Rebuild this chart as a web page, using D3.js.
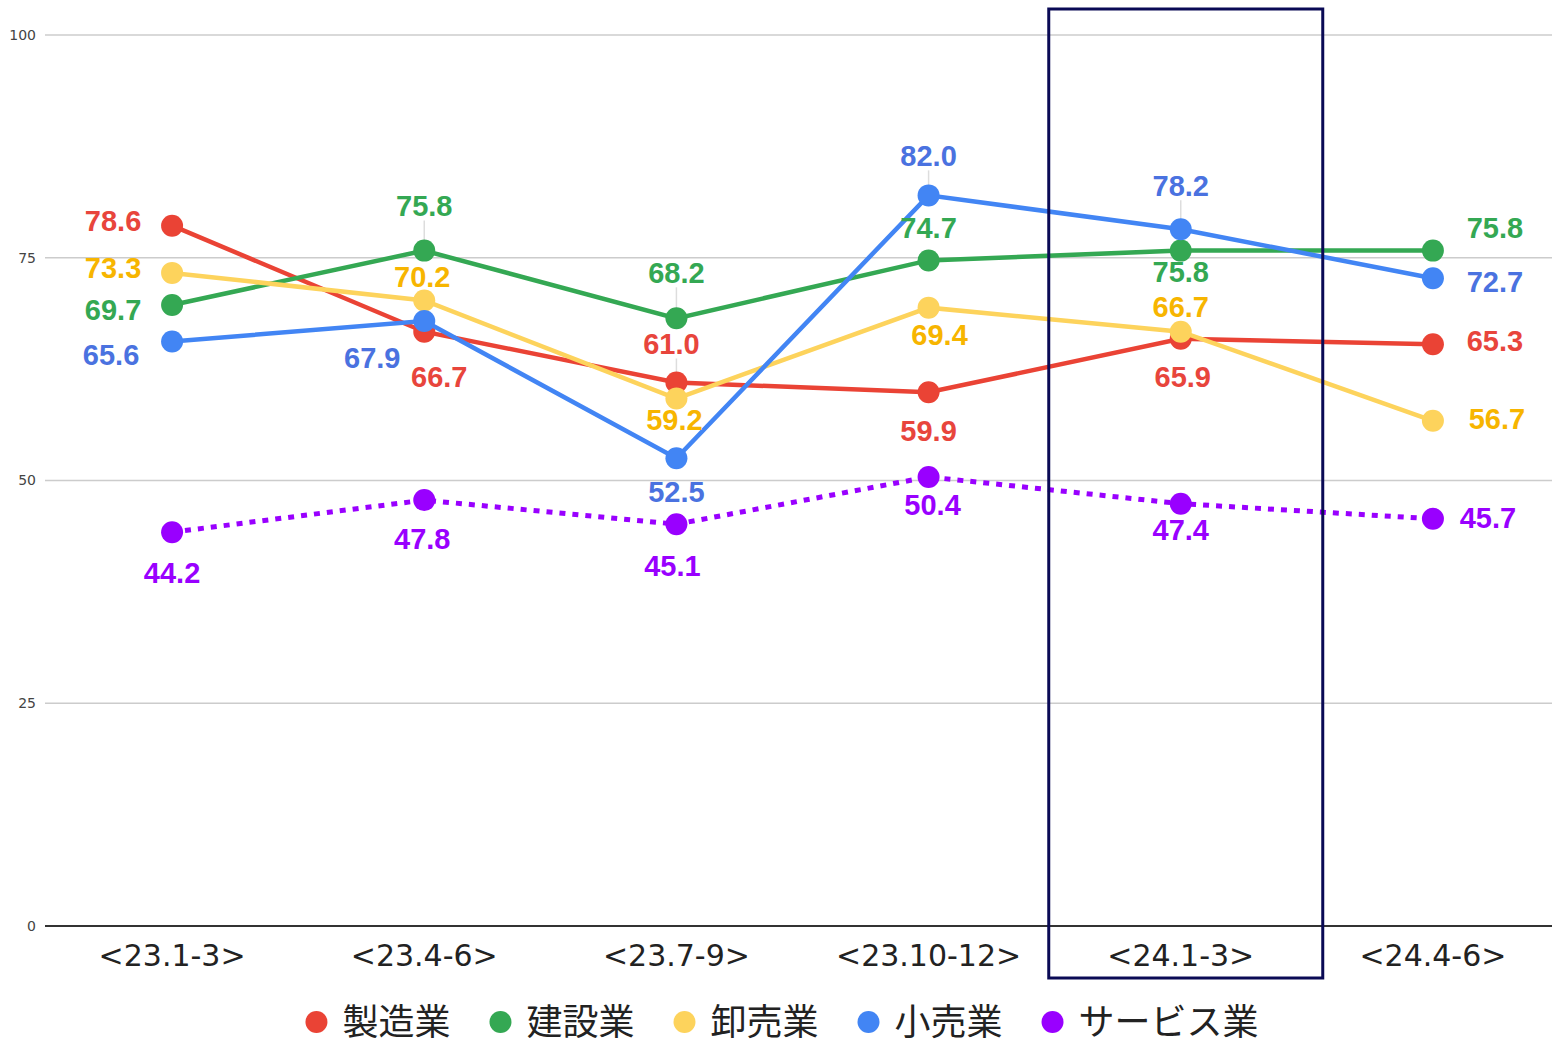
<!DOCTYPE html>
<html>
<head>
<meta charset="utf-8">
<script src="https://cdn.jsdelivr.net/npm/d3@7"></script>
<style>
  body { margin: 0; background: #fff; }
  svg { display: block; }
</style>
</head>
<body>
<script>
// chart data
var categories = ["<23.1-3>", "<23.4-6>", "<23.7-9>", "<23.10-12>", "<24.1-3>", "<24.4-6>"];
var seriesNames = ["製造業", "建設業", "卸売業", "小売業", "サービス業"];
var manufacturing = [78.6, 66.7, 61.0, 59.9, 65.9, 65.3];
var construction = [69.7, 75.8, 68.2, 74.7, 75.8, 75.8];
var wholesale = [73.3, 70.2, 59.2, 69.4, 66.7, 56.7];
var retail = [65.6, 67.9, 52.5, 82.0, 78.2, 72.7];
var service = [44.2, 47.8, 45.1, 50.4, 47.4, 45.7];
var yTicks = [0, 25, 50, 75, 100];
var highlightCategory = "<24.1-3>";

var width = 1552, height = 1044;
var lineColors = ["#ea4335", "#34a853", "#fdd35c", "#4285f4", "#9900ff"];
var textColors = ["#e8453c", "#34a853", "#f7b500", "#4a72e0", "#9900ff"];

// label offsets from each point (dx, dy)
var labelOffsets = [
  [[-59,-5],[15,45],[-5,-39],[0,38],[2,38],[62,-4]],
  [[-59,5],[0,-45],[0,-46],[0,-33],[0,21],[62,-23]],
  [[-59,-5],[-2,-24],[-2,21],[11,27],[0,-25],[64,-2]],
  [[-61,13],[-52,37],[0,33],[0,-40],[0,-44],[62,3]],
  [[0,40],[-2,38],[-4,41],[4,28],[0,26],[55,-1]]
];

var allSeries = [manufacturing, construction, wholesale, retail, service];

var svg = d3.select("body").append("svg")
    .attr("width", width)
    .attr("height", height);

var x = d3.scalePoint().domain(categories).range([46, 1559]).padding(0.5);
var y = d3.scaleLinear().domain([0, 100]).range([926, 35]);

// gridlines
svg.append("g").selectAll("line")
  .data(yTicks.filter(function(d) { return d > 0; }))
  .enter().append("line")
    .attr("x1", 45).attr("x2", width)
    .attr("y1", function(d) { return y(d); })
    .attr("y2", function(d) { return y(d); })
    .attr("stroke", "#cccccc")
    .attr("stroke-width", 1.5);

// y tick labels
svg.append("g").selectAll("text")
  .data(yTicks)
  .enter().append("text")
    .attr("x", 36)
    .attr("y", function(d) { return y(d); })
    .attr("dy", "0.35em")
    .attr("text-anchor", "end")
    .attr("font-family", "DejaVu Sans, sans-serif")
    .attr("font-size", 14)
    .attr("fill", "#444")
    .text(function(d) { return d; });

// baseline
svg.append("line")
  .attr("x1", 45).attr("x2", width)
  .attr("y1", y(0)).attr("y2", y(0))
  .attr("stroke", "#333")
  .attr("stroke-width", 2);

// category labels
svg.append("g").selectAll("text")
  .data(categories)
  .enter().append("text")
    .attr("x", function(d) { return x(d); })
    .attr("y", 966)
    .attr("text-anchor", "middle")
    .attr("font-family", "DejaVu Sans, sans-serif")
    .attr("font-size", 30)
    .attr("fill", "#222")
    .text(function(d) { return d; });

// leader lines for labels placed well above their points
allSeries.forEach(function(vals, s) {
  vals.forEach(function(v, i) {
    var off = labelOffsets[s][i];
    if (off[1] <= -39 && Math.abs(off[0]) < 10) {
      svg.append("line")
        .attr("x1", x(categories[i])).attr("x2", x(categories[i]))
        .attr("y1", y(v)).attr("y2", y(v) + off[1] + 15)
        .attr("stroke", "#dddddd")
        .attr("stroke-width", 1.5);
    }
  });
});

var line = d3.line()
  .x(function(d, i) { return x(categories[i]); })
  .y(function(d) { return y(d); });

allSeries.forEach(function(vals, s) {
  var g = svg.append("g");
  g.append("path")
    .datum(vals)
    .attr("d", line)
    .attr("fill", "none")
    .attr("stroke", lineColors[s])
    .attr("stroke-width", s == 4 ? 5 : 4.5)
    .attr("stroke-dasharray", s == 4 ? "6,7" : null);
  g.selectAll("circle")
    .data(vals)
    .enter().append("circle")
      .attr("cx", function(d, i) { return x(categories[i]); })
      .attr("cy", function(d) { return y(d); })
      .attr("r", 11)
      .attr("fill", lineColors[s]);
});

// data labels on top
allSeries.forEach(function(vals, s) {
  svg.append("g").selectAll("text")
    .data(vals)
    .enter().append("text")
      .attr("x", function(d, i) { return x(categories[i]) + labelOffsets[s][i][0]; })
      .attr("y", function(d, i) { return y(d) + labelOffsets[s][i][1]; })
      .attr("dy", "0.36em")
      .attr("text-anchor", "middle")
      .attr("font-family", "Liberation Sans, Arial, sans-serif")
      .attr("font-weight", "bold")
      .attr("font-size", 29)
      .attr("fill", textColors[s])
      .text(function(d) { return d.toFixed(1); });
});

// highlight box
svg.append("rect")
  .attr("x", x(highlightCategory) - 132)
  .attr("y", 9)
  .attr("width", 274)
  .attr("height", 969)
  .attr("fill", "none")
  .attr("stroke", "#0a0a55")
  .attr("stroke-width", 3);

// legend
var legend = svg.append("g");
var lx = 0;
seriesNames.forEach(function(name, s) {
  var it = legend.append("g").attr("transform", "translate(" + lx + ",0)");
  it.append("circle").attr("cx", 11).attr("cy", 0).attr("r", 11).attr("fill", lineColors[s]);
  var t = it.append("text")
    .attr("x", 37)
    .attr("y", 0)
    .attr("dy", "0.36em")
    .attr("font-family", "Noto Sans CJK JP, sans-serif")
    .attr("font-size", 36)
    .attr("fill", "#222")
    .text(name);
  lx += 37 + t.node().getComputedTextLength() + 39;
});
var totalW = lx - 39;
legend.attr("transform", "translate(" + (782 - totalW / 2) + ",1022)");
</script>
</body>
</html>
